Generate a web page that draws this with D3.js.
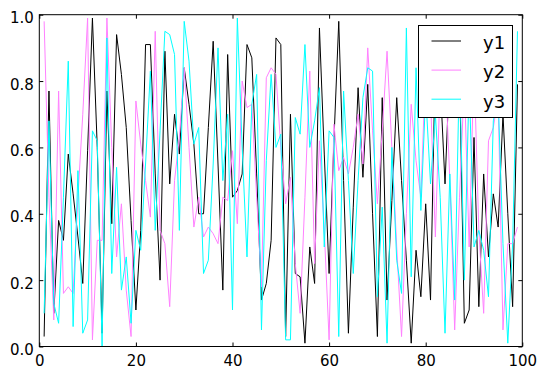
<!DOCTYPE html>
<html><head><meta charset="utf-8">
<script src="https://cdn.jsdelivr.net/npm/d3@7"></script>
<style>body{margin:0;background:#fff}svg{display:block}</style>
</head><body>
<script>
const xs = d3.range(1, 100);
const y1 = [0.03,0.77,0.10,0.38,0.32,0.58,0.46,0.33,0.19,0.59,0.99,0.60,0.04,0.77,0.37,0.94,0.82,0.66,0.38,0.11,0.35,0.91,0.91,0.52,0.20,0.89,0.49,0.70,0.58,0.84,0.73,0.61,0.40,0.40,0.66,0.92,0.55,0.17,0.88,0.45,0.47,0.52,0.91,0.87,0.52,0.14,0.19,0.32,0.93,0.91,0.03,0.70,0.22,0.21,0.01,0.30,0.19,0.96,0.58,0.22,0.62,0.98,0.50,0.04,0.42,0.78,0.51,0.79,0.40,0.03,0.75,0.14,0.44,0.75,0.50,0.26,0.01,0.29,0.15,0.43,0.14,0.88,0.80,0.49,0.85,0.92,0.83,0.07,0.11,0.63,0.12,0.52,0.27,0.46,0.36,0.70,0.40,0.12,0.79];
const y2 = [0.98,0.45,0.08,0.77,0.16,0.18,0.16,0.45,0.70,0.99,0.02,0.32,0.32,0.99,0.60,0.27,0.43,0.17,0.03,0.74,0.61,0.50,0.39,0.95,0.35,0.31,0.12,0.50,0.63,0.84,0.60,0.36,0.45,0.33,0.36,0.34,0.31,0.45,0.44,0.59,0.37,0.80,0.72,0.73,0.45,0.18,0.81,0.84,0.82,0.60,0.43,0.51,0.25,0.10,0.45,0.83,0.25,0.62,0.35,0.02,0.67,0.53,0.57,0.52,0.60,0.70,0.55,0.90,0.65,0.43,0.65,0.89,0.60,0.30,0.03,0.40,0.73,0.56,0.45,0.85,0.75,0.33,0.80,0.85,0.50,0.05,0.45,0.80,0.30,0.85,0.35,0.10,0.62,0.66,0.75,0.05,0.31,0.31,0.36];
const y3 = [0.10,0.68,0.13,0.07,0.45,0.86,0.06,0.53,0.04,0.08,0.65,0.62,0.00,0.93,0.22,0.54,0.17,0.27,0.07,0.35,0.29,0.55,0.83,0.35,0.65,0.95,0.94,0.88,0.35,0.98,0.86,0.61,0.66,0.22,0.26,0.55,0.90,0.50,0.70,0.11,0.99,0.60,0.27,0.73,0.82,0.05,0.56,0.82,0.60,0.64,0.02,0.02,0.69,0.64,0.91,0.60,0.68,0.78,0.30,0.65,0.63,0.03,0.77,0.50,0.22,0.50,0.75,0.84,0.83,0.15,0.42,0.01,0.60,0.26,0.16,0.96,0.21,0.84,0.41,0.76,0.49,0.70,0.45,0.04,0.52,0.14,0.85,0.20,0.80,0.30,0.35,0.29,0.15,0.68,0.75,0.31,0.01,0.31,0.95];
const seriesNames = ["y1","y2","y3"];
const seriesColors = ["#000000","#ff80ff","#00ffff"];
const xTicks = [0,20,40,60,80,100];
const yTicks = [0.0,0.2,0.4,0.6,0.8,1.0];

const W = 547, H = 377;
const m = {left:39.3, right:24.7, top:14.7, bottom:30.5};
const svg = d3.select("body").append("svg").attr("width",W).attr("height",H);
const x = d3.scaleLinear().domain([0,100]).range([m.left, W-m.right]);
const y = d3.scaleLinear().domain([0,1]).range([H-m.bottom, m.top]);

svg.append("clipPath").attr("id","c").append("rect")
  .attr("x",x(0)).attr("y",y(1)).attr("width",x(100)-x(0)).attr("height",y(0)-y(1));

const data = [y1,y2,y3];
const line = d3.line().x((d,i)=>x(xs[i])).y(d=>y(d));
const g = svg.append("g").attr("clip-path","url(#c)");
data.forEach((s,j)=>{
  g.append("path").datum(s).attr("d",line).attr("fill","none")
   .attr("stroke",seriesColors[j]).attr("stroke-width",1);
});

const font = "DejaVu Sans, sans-serif";
const tl = 4;
const axB = svg.append("g").attr("transform",`translate(0,${y(0)})`)
  .call(d3.axisBottom(x).tickValues(xTicks).tickSizeInner(-tl).tickSizeOuter(0).tickPadding(8.7).tickFormat(d3.format("d")));
const axT = svg.append("g").attr("transform",`translate(0,${y(1)})`)
  .call(d3.axisTop(x).tickValues(xTicks).tickSizeInner(-tl).tickSizeOuter(0).tickFormat(""));
const axL = svg.append("g").attr("transform",`translate(${x(0)},0)`)
  .call(d3.axisLeft(y).tickValues(yTicks).tickSizeInner(-tl).tickSizeOuter(0).tickPadding(5.5).tickFormat(d3.format(".1f")));
const axR = svg.append("g").attr("transform",`translate(${x(100)},0)`)
  .call(d3.axisRight(y).tickValues(yTicks).tickSizeInner(-tl).tickSizeOuter(0).tickFormat(""));
[axB,axT,axL,axR].forEach(a=>{
  a.select(".domain").remove();
  a.selectAll("line").attr("stroke","#000");
  a.selectAll("text").attr("font-family",font).attr("font-size",15).attr("fill","#000");
});
axL.selectAll("text").attr("dy","0.53em");
svg.append("rect").attr("x",x(0)).attr("y",y(1)).attr("width",x(100)-x(0)).attr("height",y(0)-y(1))
  .attr("fill","none").attr("stroke","#000").attr("stroke-width",1);

// legend
const lg = svg.append("g");
lg.append("rect").attr("x",418.5).attr("y",25.5).attr("width",94).attr("height",92)
  .attr("fill","#fff").attr("stroke","#000").attr("stroke-width",1);
seriesNames.forEach((n,j)=>{
  const yy = 41 + j*29.1;
  lg.append("line").attr("x1",431.5).attr("x2",461).attr("y1",yy).attr("y2",yy)
    .attr("stroke",seriesColors[j]).attr("stroke-width",1);
  lg.append("text").attr("x",483).attr("y",yy+8.3)
    .attr("font-family",font).attr("font-size",18).text(n);
});
</script>
</body></html>
